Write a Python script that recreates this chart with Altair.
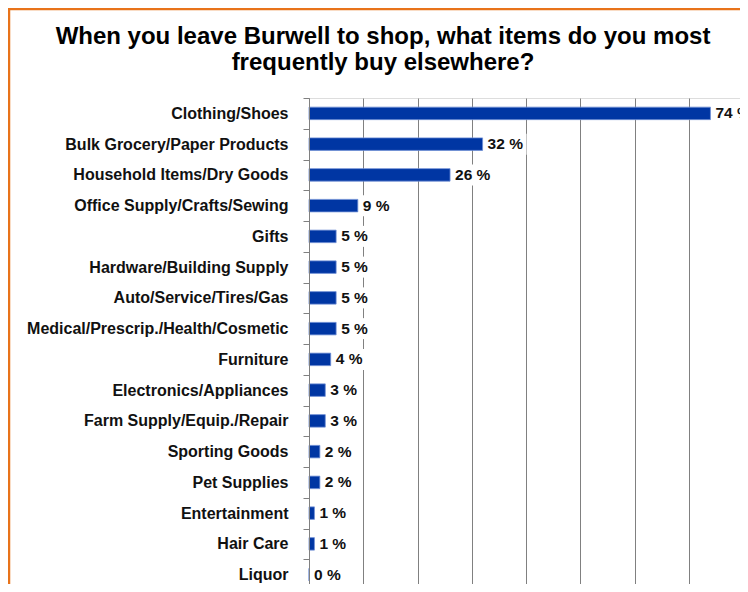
import altair as alt
import pandas as pd

categories = [
    "Clothing/Shoes",
    "Bulk Grocery/Paper Products",
    "Household Items/Dry Goods",
    "Office Supply/Crafts/Sewing",
    "Gifts",
    "Hardware/Building Supply",
    "Auto/Service/Tires/Gas",
    "Medical/Prescrip./Health/Cosmetic",
    "Furniture",
    "Electronics/Appliances",
    "Farm Supply/Equip./Repair",
    "Sporting Goods",
    "Pet Supplies",
    "Entertainment",
    "Hair Care",
    "Liquor",
]
values = [74, 32, 26, 9, 5, 5, 5, 5, 4, 3, 3, 2, 2, 1, 1, 0]
title_lines = [
    "When you leave Burwell to shop, what items do you most",
    "frequently buy elsewhere?",
]

df = pd.DataFrame({"item": categories, "pct": values})
df["label"] = [f"{v} %" for v in values]

FONT = "Liberation Sans, Arial, Helvetica, sans-serif"
W, H = 434, 492

y_enc = alt.Y(
    "item:N",
    sort=categories,
    title=None,
    scale=alt.Scale(paddingInner=0, paddingOuter=0),
    axis=alt.Axis(
        labelFont=FONT,
        labelFontSize=16,
        labelFontWeight="bold",
        labelColor="#111111",
        labelPadding=15,
        labelLimit=400,
        tickBand="extent",
        tickSize=6,
        tickColor="#808080",
        domainColor="#808080",
        grid=False,
        zindex=1,
    ),
)
x_scale = alt.Scale(domain=[0, 80], nice=False, zero=True)
x_enc = alt.X(
    "pct:Q",
    scale=x_scale,
    title=None,
    axis=alt.Axis(
        values=[0, 10, 20, 30, 40, 50, 60, 70, 80],
        grid=True,
        gridColor="#808080",
        gridWidth=1,
        gridOpacity=1,
        labels=False,
        ticks=False,
        domain=False,
    ),
)

base = alt.Chart(df)

boxes = (
    base.transform_calculate(
        box_end="datum.pct + (datum.pct >= 10 ? 8.1 : 6.6)"
    )
    .mark_bar(color="white", size=21, xOffset=4)
    .encode(x=x_enc, x2="box_end:Q", y=y_enc)
)

bars = base.mark_bar(
    color="#0036A3", size=12.5, stroke="#6f8fd6", strokeWidth=0.8
).encode(x=alt.X("pct:Q", scale=x_scale), y=alt.Y("item:N", sort=categories))

labels = base.mark_text(
    align="left",
    baseline="middle",
    dx=5,
    font=FONT,
    fontSize=15.5,
    fontWeight="bold",
    color="#111111",
).encode(
    x=alt.X("pct:Q", scale=x_scale),
    y=alt.Y("item:N", sort=categories),
    text="label:N",
)

border_data = alt.Data(values=[{"k": 1}])
border_v = alt.Chart(border_data).mark_rule(color="#E8731A", strokeWidth=2.5).encode(
    x=alt.value(-300), y=alt.value(-89), y2=alt.value(H + 20)
)
border_h = alt.Chart(border_data).mark_rule(color="#E8731A", strokeWidth=2.5).encode(
    x=alt.value(-301.2), x2=alt.value(W + 20), y=alt.value(-89)
)

chart = (
    alt.layer(boxes, bars, labels, border_v, border_h)
    .properties(
        width=W,
        height=H,
        padding={"left": 301, "top": 90, "right": -3, "bottom": -6},
        autosize=alt.AutoSizeParams(type="none"),
        title=alt.TitleParams(
            text=title_lines,
            font=FONT,
            fontSize=24,
            fontWeight="bold",
            color="black",
            anchor="middle",
            frame="group",
            dx=-143,
            lineHeight=25.6,
            offset=-67,
        ),
    )
    .configure_view(stroke=None)
    .configure(background="white")
)

chart.save("out.html", embed_options={"renderer": "svg", "actions": False})
